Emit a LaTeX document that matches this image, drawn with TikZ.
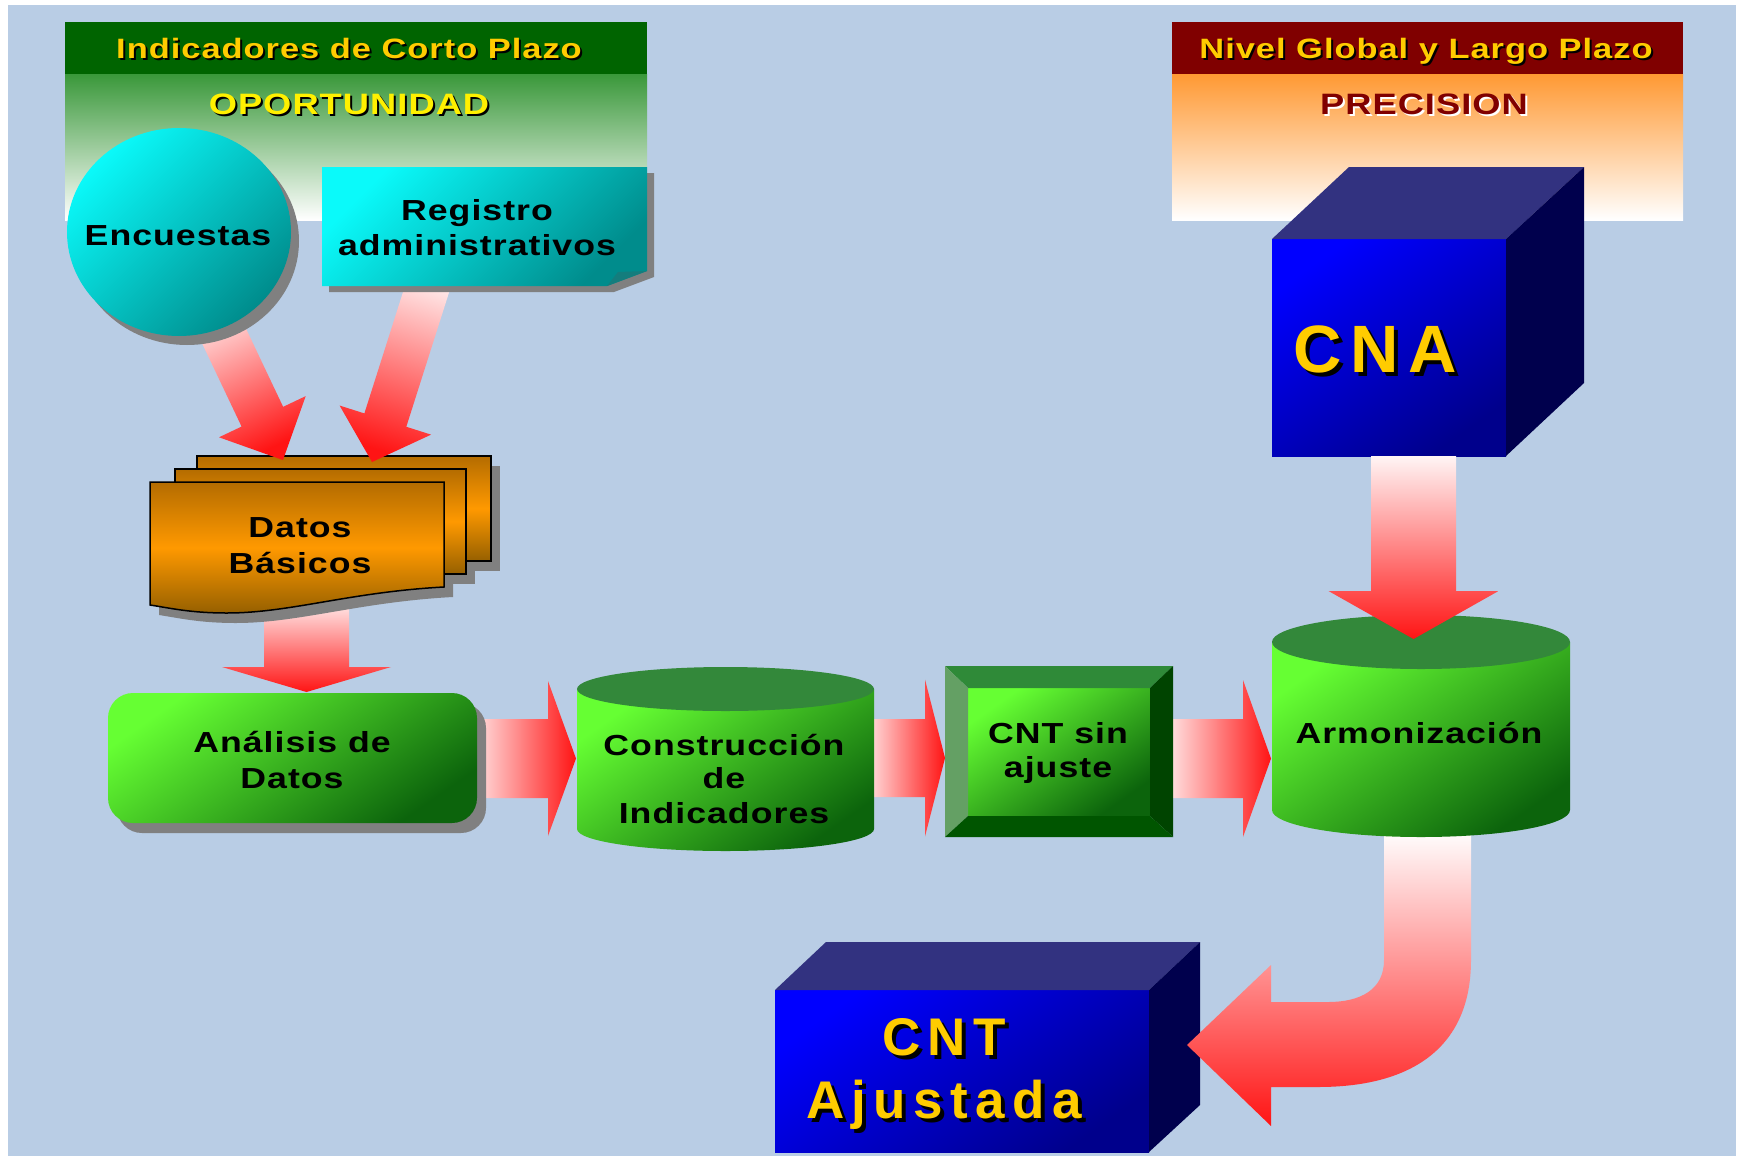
\documentclass[tikz,border=0pt]{standalone}
\usepackage{fontspec}
\setmainfont{Liberation Sans}[LetterSpace=3.5, FakeStretch=1.23]
\newfontfamily\bigfam{Liberation Sans}[LetterSpace=14]
\definecolor{bgblue}{RGB}{185,205,229}
\definecolor{hgreen}{RGB}{0,100,0}
\definecolor{hgreen2}{RGB}{58,152,58}
\definecolor{hred}{RGB}{128,0,0}
\definecolor{horange}{RGB}{255,153,51}
\definecolor{tyellow}{RGB}{255,204,0}
\definecolor{oyellow}{RGB}{255,240,0}
\definecolor{cyanL}{RGB}{10,250,250}
\definecolor{cyanD}{RGB}{0,140,140}
\definecolor{foldC}{RGB}{20,125,125}
\definecolor{grnL}{RGB}{102,255,51}
\definecolor{grnD}{RGB}{12,100,12}
\definecolor{grnTop}{RGB}{51,136,58}
\definecolor{bevT}{RGB}{47,138,56}
\definecolor{bevL}{RGB}{100,160,100}
\definecolor{bevR}{RGB}{0,68,0}
\definecolor{bevB}{RGB}{0,85,0}
\definecolor{orT}{RGB}{180,108,0}
\definecolor{orM}{RGB}{255,153,0}
\definecolor{orB}{RGB}{150,96,0}
\definecolor{bluF}{RGB}{0,0,255}
\definecolor{bluD}{RGB}{0,0,140}
\definecolor{bluT}{RGB}{50,50,128}
\definecolor{bluR}{RGB}{0,0,77}
\definecolor{shad}{RGB}{128,128,128}
\definecolor{arrW}{RGB}{255,245,245}
\definecolor{arrR}{RGB}{255,20,20}
% text with a drop shadow inside one box: #1 offset, #2 shadow colour, #3 text colour, #4 text
\newcommand\shtxt[4]{\makebox[0pt][l]{\hspace*{#1}\raisebox{-#1}{\color{#2}#4}}{\color{#3}#4}}
% block arrow: #1 start coordinate, #2 canvas angle, #3 length, #4 shaft half width,
% #5 head half width, #6 head length, #7 shading angle
\newcommand\blockarr[7]{%
  \begin{scope}[shift={(#1)}, rotate=#2]
    \shade[top color=arrW, bottom color=arrR, shading angle=#7]
      (0,-#4) -- ({#3-#6},-#4) -- ({#3-#6},-#5) -- (#3,0) -- ({#3-#6},#5)
      -- ({#3-#6},#4) -- (0,#4) -- cycle;
  \end{scope}}
\tikzset{
  ttl/.style={anchor=base, inner sep=0pt, font=\fontsize{28}{34}\selectfont\bfseries},
  sub/.style={anchor=base, inner sep=0pt, font=\fontsize{29.5}{36}\selectfont\bfseries},
  bx/.style={anchor=base, inner sep=0pt, text=black, font=\fontsize{29}{35}\selectfont\bfseries},
  big/.style={anchor=base, inner sep=0pt, font=\bigfam\fontsize{67}{75}\selectfont\bfseries},
  bigb/.style={anchor=base, inner sep=0pt, font=\bigfam\fontsize{53}{63}\selectfont\bfseries},
  grnshade/.style={top color=grnL, bottom color=grnD, shading angle=35},
  pageshade/.style={top color=orT, bottom color=orB, middle color=orM, draw=black, line width=1.5pt},
}
\begin{document}
\begin{tikzpicture}[x=1pt,y=-1pt]
\useasboundingbox (0,0) rectangle (1739,1159);
\fill[white] (0,0) rectangle (1739,1159);
\fill[bgblue] (8,5) rectangle (1736,1156);

% ---------- headers
\fill[hgreen] (65,22) rectangle (647,74);
\shade[top color=hgreen2, bottom color=white] (65,74) rectangle (647,220);
\fill[hred] (1172,22) rectangle (1683,74);
\shade[top color=horange, bottom color=white] (1172,74) rectangle (1683,220);

\node[ttl] (t1) at (349,58) {\shtxt{2pt}{black}{tyellow}{Indicadores de Corto Plazo}};
\node[sub] (o1) at (349,114) {\shtxt{2pt}{black}{oyellow}{OPORTUNIDAD}};
\node[ttl] (t2) at (1426,58.5) {\shtxt{2pt}{black}{tyellow}{Nivel Global y Largo Plazo}};
\node[sub] (p1) at (1424,114) {\shtxt{2pt}{white}{hred}{PRECISION}};

% ---------- connector coordinates
\coordinate (a3s) at (306.5,598);
\coordinate (a4s) at (465,758.5);
\coordinate (a5s) at (860,758);
\coordinate (a6s) at (1160,758.5);
\coordinate (a7s) at (1413.5,456);
\coordinate (a1s) at (206,298);
\coordinate (a2s) at (435,264);

% arrows behind the boxes
\blockarr{a3s}{-90}{94}{42.5}{84.5}{25}{0}
\blockarr{a4s}{0}{111}{39.5}{77.5}{28}{90}
\blockarr{a5s}{0}{85}{39}{78.5}{20}{90}
\blockarr{a6s}{0}{111}{39.5}{78.5}{28}{90}

% ---------- CNT Ajustada cube
\shade[top color=bluF, bottom color=bluD, shading angle=35] (775,990) rectangle (1149,1152);
\fill[bluT] (775,990) -- (826,942) -- (1200,942) -- (1149,990) -- cycle;
\fill[bluR] (1149,990) -- (1200,942) -- (1200,1105) -- (1149,1152) -- cycle;
\node[bigb] (c2) at (944,1055) {\shtxt{4pt}{black}{tyellow}{CNT}};
\node[bigb] (c3) at (944,1118) {\shtxt{4pt}{black}{tyellow}{Ajustada}};

% curved arrow Armonizacion -> CNT Ajustada
\shade[top color=white, bottom color=arrR]
  (1384,830) -- (1384,960) .. controls (1384,990) and (1360,1002) .. (1328,1002)
  -- (1271,1002) -- (1271,965) -- (1187,1045) -- (1271,1126) -- (1271,1087)
  -- (1318,1087) .. controls (1415,1087) and (1471,1045) .. (1471,960)
  -- (1471,830) -- cycle;

% ---------- Datos Basicos
\fill[shad] (206,466) rectangle (500,571);
\fill[shad] (184,479) rectangle (475,584);
\fill[shad] (159,492) -- (453,492) -- (453,597) .. controls (359,602) and (299,623) .. (236,623)
  .. controls (199,623) and (179,618) .. (159,615) -- cycle;
\shade[pageshade] (197,456) rectangle (491,561);
\shade[pageshade] (175,469) rectangle (466,574);
\shade[pageshade] (150,482) -- (444,482) -- (444,587) .. controls (350,592) and (290,613) .. (227,613)
  .. controls (190,613) and (170,608) .. (150,605) -- cycle;
\node[bx] (d1) at (300,537) {Datos};
\node[bx] (d2) at (300,573) {Básicos};

% arrows into Datos Basicos
\blockarr{a1s}{-64.6}{179.4}{23}{48}{48}{25.4}
\blockarr{a2s}{-107.65}{207.8}{22}{48}{44}{-17.65}

% ---------- Encuestas
\fill[shad] (187,241) ellipse [x radius=112pt, y radius=104pt];
\shade[top color=cyanL, bottom color=cyanD, shading angle=45] (179,232) ellipse [x radius=112pt, y radius=104pt];
\node[bx] (enc) at (178,245) {Encuestas};

% ---------- Registro administrativos
\fill[shad] (329,173) -- (654,173) -- (654,277) -- (614,292) -- (329,292) -- cycle;
\shade[top color=cyanL, bottom color=cyanD, shading angle=45] (322,167) -- (647,167) -- (647,271) -- (607,286) -- (322,286) -- cycle;
\fill[foldC] (647,271) -- (607,286) -- (618,272) -- cycle;
\node[bx] (r1) at (477,220) {Registro};
\node[bx] (r2) at (477,255) {administrativos};

% ---------- Analisis de Datos
\fill[shad, rounded corners=25pt] (117,703) rectangle (486,833);
\shade[grnshade, rounded corners=25pt] (108,693) rectangle (477,823);
\node[bx] (an1) at (292,752) {Análisis de};
\node[bx] (an2) at (292,788) {Datos};

% ---------- Construccion de Indicadores
\shade[grnshade] (577,689) -- (577,829) arc[start angle=180, end angle=360, x radius=148.5pt, y radius=22pt] -- (874,689) -- cycle;
\fill[grnTop] (725.5,689) ellipse [x radius=148.5pt, y radius=22pt];
\node[bx] (co1) at (724,755) {Construcción};
\node[bx] (co2) at (724,788) {de};
\node[bx] (co3) at (724,823) {Indicadores};

% ---------- CNT sin ajuste
\shade[grnshade] (968,688) rectangle (1150,816);
\fill[bevT] (945,666) -- (1173,666) -- (1150,688) -- (968,688) -- cycle;
\fill[bevL] (945,666) -- (968,688) -- (968,816) -- (945,837) -- cycle;
\fill[bevR] (1173,666) -- (1173,837) -- (1150,816) -- (1150,688) -- cycle;
\fill[bevB] (945,837) -- (1173,837) -- (1150,816) -- (968,816) -- cycle;
\node[bx] (s1) at (1058,743) {CNT sin};
\node[bx] (s2) at (1058,777) {ajuste};

% ---------- Armonizacion
\shade[grnshade] (1272,642) -- (1272,810) arc[start angle=180, end angle=360, x radius=149pt, y radius=27pt] -- (1570,642) -- cycle;
\fill[grnTop] (1421,642) ellipse [x radius=149pt, y radius=27pt];
\node[bx] (arm) at (1419,743) {Armonización};

% ---------- CNA cube
\shade[top color=bluF, bottom color=bluD, shading angle=35] (1272,239) rectangle (1506,456);
\fill[bluT] (1272,239) -- (1349,167) -- (1584,167) -- (1506,239) -- cycle;
\fill[bluR] (1506,239) -- (1584,167) -- (1584,383) -- (1506,456) -- cycle;
\node[big] (cna) at (1375,372) {\shtxt{4pt}{black}{tyellow}{CNA}};

% arrow CNA -> Armonizacion
\blockarr{a7s}{-90}{183}{42.5}{85}{48}{0}
\end{tikzpicture}
\end{document}
